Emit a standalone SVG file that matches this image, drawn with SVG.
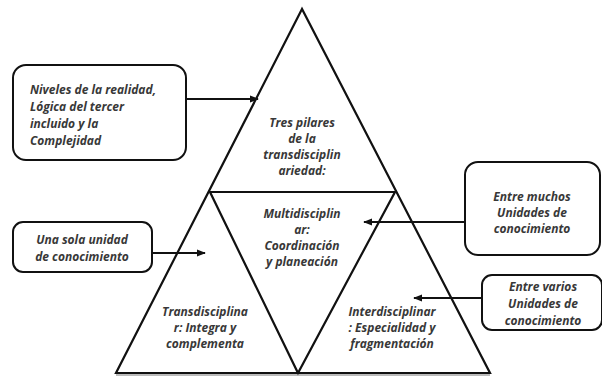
<svg xmlns="http://www.w3.org/2000/svg" width="602" height="377" viewBox="0 0 602 377">
<style>
.t{font-family:"Open Sans","Liberation Sans",sans-serif;font-style:italic;font-weight:bold;font-size:12px;fill:#383838}
.c{text-anchor:middle}
.box{fill:#fff;stroke:#111;stroke-width:2}
.tri{fill:none;stroke:#111;stroke-width:2.2;stroke-linejoin:miter}
.con{stroke:#111;stroke-width:2;fill:none}
</style>
<defs>
<marker id="ah" viewBox="0 0 10 10" refX="9" refY="5" markerWidth="4.5" markerHeight="4.5" orient="auto-start-reverse" markerUnits="strokeWidth">
<path d="M0,1 L10,5 L0,9 z" fill="#111"/>
</marker>
</defs>
<rect width="602" height="377" fill="#fff"/>
<g id="triangle">
<path class="tri" d="M302,9 L116,373 L490,373 Z"/>
<path class="tri" d="M210,192 L395,192 L298,373 Z"/>
<line x1="116" y1="373" x2="490" y2="373" stroke="#777" stroke-width="1" transform="translate(0,2)"/>
</g>
<g id="node-tres-pilares">
<text class="t c" x="302" y="127">Tres pilares</text>
<text class="t c" x="302" y="143">de la</text>
<text class="t c" x="302" y="159">transdisciplin</text>
<text class="t c" x="302" y="175">ariedad:</text>
</g>
<g id="node-multi">
<text class="t c" x="302" y="218">Multidisciplin</text>
<text class="t c" x="302" y="234">ar:</text>
<text class="t c" x="302" y="250">Coordinación</text>
<text class="t c" x="302" y="266">y planeación</text>
</g>
<g id="node-trans">
<text class="t c" x="205" y="316">Transdisciplina</text>
<text class="t c" x="205" y="332">r: Integra y</text>
<text class="t c" x="205" y="348">complementa</text>
</g>
<g id="node-inter">
<text class="t c" x="392" y="316">Interdisciplinar</text>
<text class="t c" x="392" y="332">: Especialidad y</text>
<text class="t c" x="392" y="348">fragmentación</text>
</g>
<g id="node-niveles">
<rect class="box" x="13" y="65" width="173" height="95" rx="13"/>
<text class="t" x="30" y="94">Niveles de la realidad,</text>
<text class="t" x="30" y="111">Lógica del tercer</text>
<text class="t" x="30" y="128">incluido y la</text>
<text class="t" x="30" y="145">Complejidad</text>
</g>
<g id="node-muchos">
<rect class="box" x="465" y="162" width="135" height="93" rx="13"/>
<text class="t c" x="532" y="201">Entre muchos</text>
<text class="t c" x="532" y="217">Unidades de</text>
<text class="t c" x="532" y="233">conocimiento</text>
</g>
<g id="node-una">
<rect class="box" x="13" y="222" width="139" height="50" rx="10"/>
<text class="t c" x="82" y="244">Una sola unidad</text>
<text class="t c" x="82" y="261">de conocimiento</text>
</g>
<g id="node-varios">
<rect class="box" x="482" y="275" width="120" height="55" rx="10"/>
<text class="t c" x="543" y="291">Entre varios</text>
<text class="t c" x="543" y="308">Unidades de</text>
<text class="t c" x="543" y="325">conocimiento</text>
</g>
<g id="connectors">
<line class="con" x1="186" y1="99" x2="258" y2="99" marker-end="url(#ah)"/>
<line class="con" x1="465" y1="222" x2="364" y2="222" marker-end="url(#ah)"/>
<line class="con" x1="152" y1="253" x2="205" y2="253" marker-end="url(#ah)"/>
<line class="con" x1="482" y1="298" x2="414" y2="298" marker-end="url(#ah)"/>
</g>
</svg>
